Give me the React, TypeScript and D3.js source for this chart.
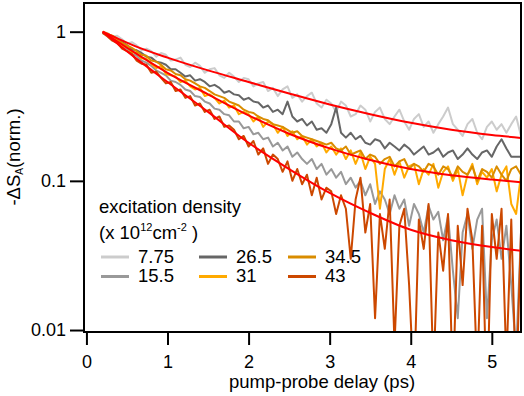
import { useRef, useEffect } from 'react';
import * as d3 from 'd3';

// pump-probe delay grid (ps)
const delays = [
  0.2, 0.26, 0.32, 0.38, 0.44, 0.5, 0.56, 0.62, 0.68, 0.74,
  0.8, 0.86, 0.92, 0.98, 1.04, 1.1, 1.16, 1.22, 1.28, 1.34,
  1.4, 1.46, 1.52, 1.58, 1.64, 1.7, 1.76, 1.82, 1.88, 1.94,
  2.0, 2.06, 2.12, 2.18, 2.24, 2.3, 2.36, 2.42, 2.48, 2.54,
  2.6, 2.66, 2.72, 2.78, 2.84, 2.9, 2.96, 3.02, 3.08, 3.14,
  3.2, 3.26, 3.32, 3.38, 3.44, 3.5, 3.56, 3.62, 3.68, 3.74,
  3.8, 3.86, 3.92, 3.98, 4.04, 4.1, 4.16, 4.22, 4.28, 4.34,
  4.4, 4.46, 4.52, 4.58, 4.64, 4.7, 4.76, 4.82, 4.88, 4.94,
  5.0, 5.06, 5.12, 5.18, 5.24, 5.3, 5.36,
];

const s775 = [
  0.99, 0.98, 0.92, 0.94, 0.89, 0.83, 0.85, 0.81, 0.75, 0.77,
  0.74, 0.68, 0.72, 0.7, 0.64, 0.65, 0.67, 0.6, 0.58, 0.62,
  0.59, 0.53, 0.56, 0.57, 0.51, 0.49, 0.53, 0.5, 0.46, 0.49,
  0.48, 0.43, 0.45, 0.46, 0.4, 0.42, 0.37, 0.41, 0.43, 0.36,
  0.38, 0.34, 0.37, 0.39, 0.33, 0.31, 0.35, 0.33, 0.29, 0.34,
  0.32, 0.27, 0.28, 0.32, 0.3, 0.25, 0.29, 0.31, 0.26, 0.24,
  0.27, 0.3, 0.25, 0.22, 0.26, 0.28, 0.23, 0.25, 0.21, 0.24,
  0.27, 0.31, 0.24, 0.22, 0.2, 0.24, 0.26, 0.21, 0.19, 0.23,
  0.25, 0.22, 0.24, 0.21, 0.24, 0.27, 0.2,
];

const s155 = [
  0.98, 0.95, 0.89, 0.86, 0.79, 0.77, 0.71, 0.69, 0.64, 0.62,
  0.59, 0.55, 0.53, 0.51, 0.47, 0.46, 0.44, 0.41, 0.4, 0.37,
  0.365, 0.34, 0.33, 0.305, 0.3, 0.28, 0.275, 0.25, 0.25, 0.225,
  0.23, 0.205, 0.21, 0.19, 0.195, 0.17, 0.18, 0.16, 0.17, 0.145,
  0.155, 0.14, 0.13, 0.14, 0.12, 0.13, 0.11, 0.12, 0.105, 0.115,
  0.095, 0.105, 0.09, 0.1, 0.08, 0.095, 0.07, 0.085, 0.075, 0.06,
  0.08, 0.065, 0.075, 0.05, 0.07, 0.06, 0.045, 0.068, 0.055, 0.062,
  0.04, 0.058, 0.025, 0.012, 0.045, 0.06, 0.035, 0.055, 0.065, 0.012,
  0.04, 0.055, 0.03, 0.05, 0.02, 0.007, 0.045,
];

const s265 = [
  0.99, 0.96, 0.93, 0.87, 0.85, 0.81, 0.76, 0.75, 0.72, 0.68,
  0.67, 0.63, 0.62, 0.6, 0.56, 0.56, 0.53, 0.5, 0.51, 0.47,
  0.48, 0.46, 0.43, 0.44, 0.42, 0.39, 0.4, 0.38, 0.375, 0.35,
  0.36, 0.34, 0.335, 0.31, 0.32, 0.29, 0.3, 0.28, 0.34, 0.27,
  0.25, 0.26, 0.235, 0.25, 0.22, 0.225, 0.21, 0.24, 0.31, 0.21,
  0.195, 0.21, 0.19, 0.2, 0.18, 0.175, 0.19, 0.185, 0.165, 0.18,
  0.17, 0.16, 0.175, 0.165, 0.15, 0.16, 0.17, 0.15, 0.155, 0.165,
  0.145, 0.155, 0.16, 0.14, 0.15, 0.165, 0.15, 0.14, 0.155, 0.16,
  0.145, 0.17, 0.19, 0.165, 0.145, 0.145, 0.145,
];

const s31 = [
  1.0, 0.97, 0.93, 0.88, 0.8, 0.79, 0.73, 0.72, 0.66, 0.66,
  0.61, 0.57, 0.59, 0.52, 0.51, 0.5, 0.46, 0.47, 0.43, 0.41,
  0.42, 0.37, 0.38, 0.36, 0.33, 0.345, 0.31, 0.32, 0.28, 0.29,
  0.28, 0.25, 0.27, 0.23, 0.25, 0.24, 0.21, 0.23, 0.2, 0.215,
  0.19, 0.2, 0.175, 0.19, 0.17, 0.18, 0.155, 0.17, 0.15, 0.165,
  0.14, 0.16, 0.13, 0.155, 0.12, 0.145, 0.13, 0.065, 0.12, 0.14,
  0.11, 0.135, 0.105, 0.125, 0.13, 0.095, 0.12, 0.11, 0.13, 0.09,
  0.115, 0.125, 0.1, 0.12, 0.08, 0.11, 0.13, 0.095, 0.115, 0.105,
  0.12, 0.085, 0.11, 0.125, 0.07, 0.06, 0.11,
];

const s345 = [
  0.99, 0.96, 0.94, 0.9, 0.84, 0.81, 0.78, 0.74, 0.7, 0.69,
  0.64, 0.63, 0.6, 0.56, 0.55, 0.52, 0.51, 0.48, 0.47, 0.45,
  0.43, 0.42, 0.4, 0.38, 0.37, 0.36, 0.34, 0.33, 0.32, 0.3,
  0.29, 0.285, 0.27, 0.26, 0.255, 0.24, 0.235, 0.23, 0.22, 0.21,
  0.215, 0.2, 0.195, 0.19, 0.185, 0.18, 0.175, 0.18, 0.165, 0.16,
  0.17, 0.15, 0.155, 0.16, 0.14, 0.15, 0.145, 0.13, 0.14, 0.145,
  0.125, 0.135, 0.14, 0.12, 0.13, 0.125, 0.115, 0.13, 0.125, 0.11,
  0.125, 0.12, 0.105, 0.125, 0.115, 0.11, 0.125, 0.1, 0.12, 0.115,
  0.105, 0.125, 0.11, 0.1, 0.12, 0.125, 0.11,
];

const s43 = [
  0.98, 0.93, 0.87, 0.84, 0.77, 0.74, 0.71, 0.64, 0.61, 0.6,
  0.53, 0.54, 0.49, 0.45, 0.46, 0.4, 0.41, 0.36, 0.37, 0.32,
  0.33, 0.29, 0.3, 0.26, 0.27, 0.23, 0.235, 0.22, 0.19, 0.2,
  0.17, 0.185, 0.15, 0.165, 0.13, 0.15, 0.14, 0.115, 0.135, 0.1,
  0.12, 0.095, 0.11, 0.08, 0.105, 0.075, 0.09, 0.085, 0.06, 0.08,
  0.065, 0.03, 0.075, 0.105, 0.045, 0.07, 0.012, 0.06, 0.035, 0.075,
  0.008, 0.05, 0.065, 0.02, 0.004, 0.055, 0.035, 0.07, 0.005, 0.045,
  0.025, 0.06, 0.004, 0.05, 0.02, 0.065, 0.04, 0.005, 0.05, 0.003,
  0.06, 0.03, 0.065, 0.006, 0.055, 0.004, 0.045,
];

// fitted decays (red curves)
const fitDelays = [0.2, 0.6, 1.0, 1.5, 2.0, 2.5, 3.0, 3.5, 4.0, 4.5, 5.0, 5.36];
const fitLow = [1.0, 0.8, 0.67, 0.55, 0.46, 0.385, 0.325, 0.28, 0.245, 0.22, 0.203, 0.194];
const fitMid = [1.0, 0.72, 0.53, 0.38, 0.275, 0.207, 0.165, 0.138, 0.12, 0.109, 0.102, 0.098];
const fitHigh = [1.0, 0.67, 0.46, 0.29, 0.18, 0.12, 0.083, 0.061, 0.047, 0.04, 0.036, 0.034];

const densities = ['7.75', '15.5', '26.5', '31', '34.5', '43'];
const colors = ['#cccccc', '#999999', '#666666', '#ffaa00', '#d98c00', '#cc4800'];
const seriesValues = [s775, s155, s265, s31, s345, s43];

const xTicks = [0, 1, 2, 3, 4, 5];
const yTicks = [1, 0.1, 0.01];
const yTickLabels = ['1', '0.1', '0.01'];

const FONT = "'Liberation Sans', Arial, Helvetica, sans-serif";

const App = () => {
  const ref = useRef<SVGSVGElement>(null);

  useEffect(() => {
    const svg = d3.select(ref.current);
    svg.selectAll('*').remove();

    const left = 84, right = 521, top = 3, bottom = 332;

    const x = d3.scaleLinear().domain([-0.03, 5.36]).range([left, right]);
    const y = d3.scaleLog().domain([0.0097, 1.557]).range([bottom, top]);

    svg.append('defs').append('clipPath').attr('id', 'plotclip')
      .append('rect')
      .attr('x', left).attr('y', top)
      .attr('width', right - left).attr('height', bottom - top);

    const line = d3.line<[number, number]>()
      .x(d => x(d[0]))
      .y(d => y(d[1]));

    const plot = svg.append('g').attr('clip-path', 'url(#plotclip)');

    seriesValues.forEach((vals, i) => {
      plot.append('path')
        .datum(delays.map((t, j) => [t, vals[j]] as [number, number]))
        .attr('d', line)
        .attr('fill', 'none')
        .attr('stroke', colors[i])
        .attr('stroke-width', 2)
        .attr('stroke-linejoin', 'round');
    });

    const fitLine = d3.line<[number, number]>()
      .x(d => x(d[0]))
      .y(d => y(d[1]))
      .curve(d3.curveMonotoneX);

    [fitLow, fitMid, fitHigh].forEach(vals => {
      plot.append('path')
        .datum(fitDelays.map((t, j) => [t, vals[j]] as [number, number]))
        .attr('d', fitLine)
        .attr('fill', 'none')
        .attr('stroke', '#ff0000')
        .attr('stroke-width', 2);
    });

    // axes
    const xAxis = svg.append('g')
      .attr('transform', `translate(0,${bottom})`)
      .call(d3.axisBottom(x).tickValues(xTicks).tickSize(13).tickPadding(10.5).tickFormat(d3.format('d')));
    const yAxis = svg.append('g')
      .attr('transform', `translate(${left},0)`)
      .call(d3.axisLeft(y).tickValues(yTicks).tickSize(14).tickPadding(4)
        .tickFormat((d, i) => yTickLabels[i]));

    [xAxis, yAxis].forEach(g => {
      g.select('.domain').remove();
      g.selectAll('line').attr('stroke', '#000').attr('stroke-width', 2);
      g.selectAll('text').attr('font-size', 18).attr('font-family', FONT).attr('fill', '#000');
    });

    // frame
    svg.append('rect')
      .attr('x', left).attr('y', top)
      .attr('width', right - left).attr('height', bottom - top)
      .attr('fill', 'none')
      .attr('stroke', '#000')
      .attr('stroke-width', 2);

    // axis titles
    svg.append('text')
      .attr('x', 322).attr('y', 388)
      .attr('text-anchor', 'middle')
      .attr('font-size', 18.5).attr('font-family', FONT)
      .text('pump-probe delay (ps)');

    const yl = svg.append('text')
      .attr('transform', 'translate(20,157) rotate(-90)')
      .attr('text-anchor', 'middle')
      .attr('font-size', 18.5).attr('font-family', FONT);
    yl.append('tspan').text('-ΔS');
    yl.append('tspan').attr('font-size', 10).attr('dy', 3).text('A');
    yl.append('tspan').attr('dy', -3).text('(norm.)');

    // legend
    const lg = svg.append('g').attr('font-family', FONT).attr('font-size', 18.5);
    lg.append('text').attr('x', 99).attr('y', 213).text('excitation density');
    const l2 = lg.append('text').attr('x', 99).attr('y', 239);
    l2.append('tspan').text('(x 10');
    l2.append('tspan').attr('font-size', 11).attr('dy', -8).text('12');
    l2.append('tspan').attr('dy', 8).text('cm');
    l2.append('tspan').attr('font-size', 11).attr('dy', -8).text('-2');
    l2.append('tspan').attr('dy', 8).text(' )');

    const colX = [101, 199, 288];
    densities.forEach((lab, i) => {
      const col = Math.floor(i / 2);
      const row = i % 2;
      const ly = 257 + row * 19.5;
      lg.append('line')
        .attr('x1', colX[col]).attr('x2', colX[col] + 28)
        .attr('y1', ly).attr('y2', ly)
        .attr('stroke', colors[i]).attr('stroke-width', 3);
      lg.append('text')
        .attr('x', colX[col] + 37).attr('y', ly + 5.5)
        .text(lab);
    });
  }, []);

  return (
    <svg ref={ref} width={524} height={396}
      style={{ position: 'absolute', left: 0, top: 0, background: '#fff' }} />
  );
};

export default App;
